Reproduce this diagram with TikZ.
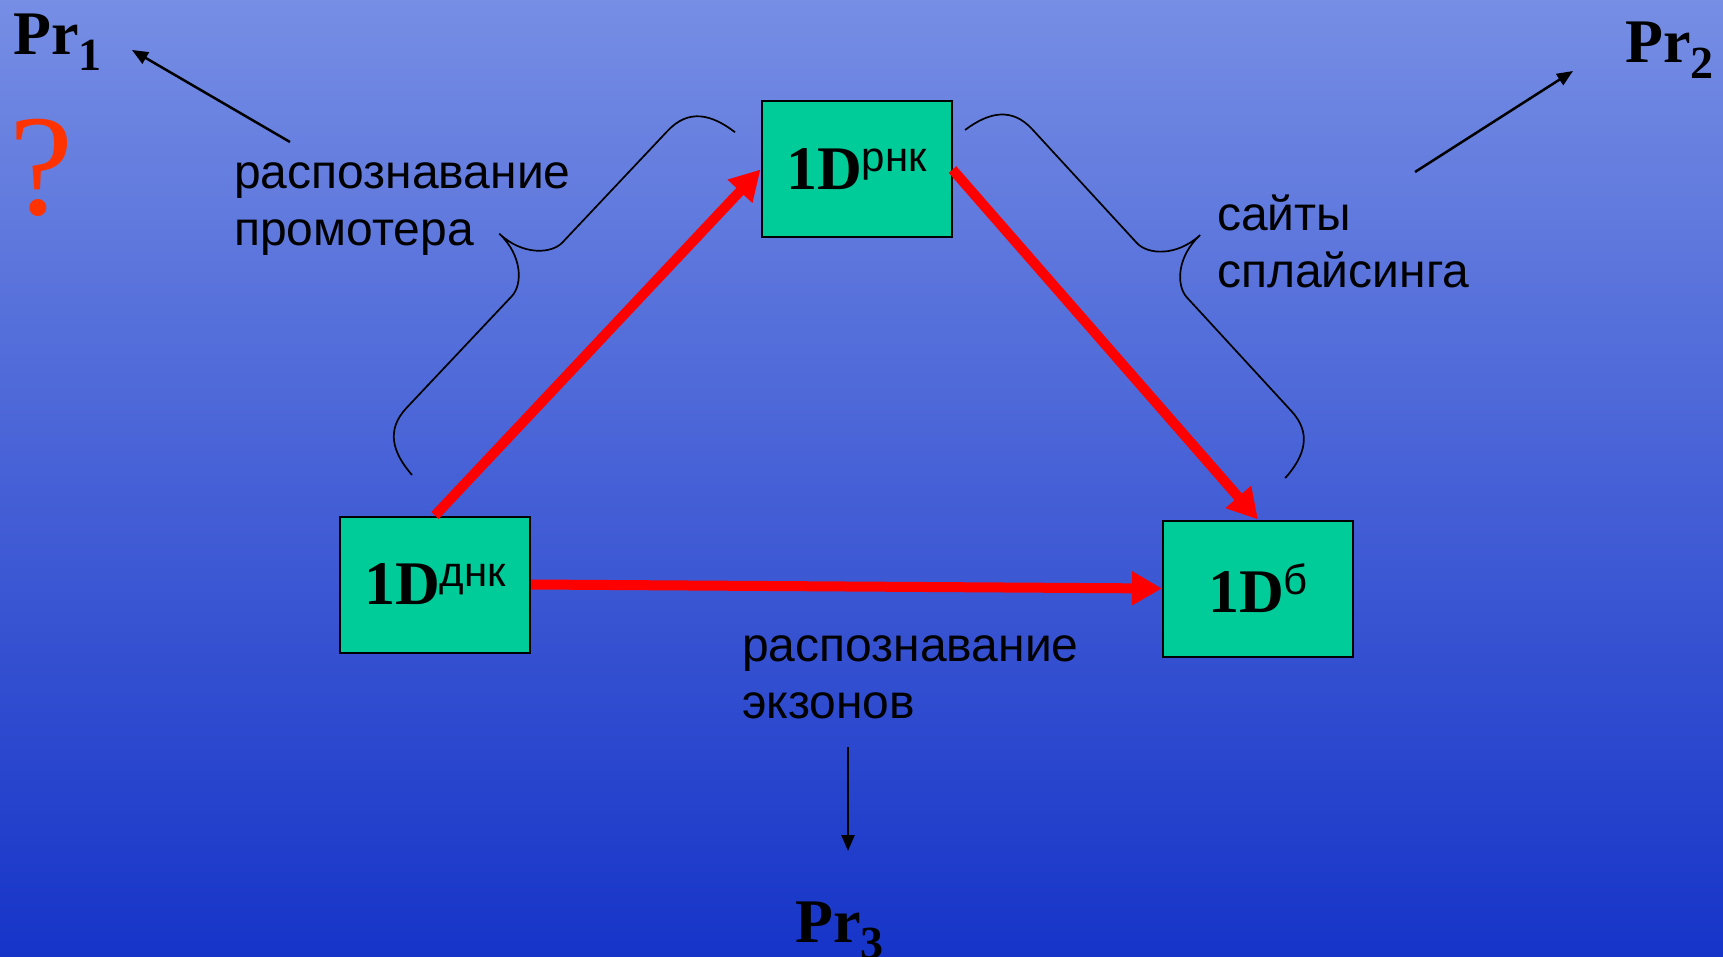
\documentclass[tikz,border=0pt]{standalone}
\usepackage{fontspec}
\setmainfont{Liberation Serif}
\setsansfont{Liberation Sans}
\usepackage{tikz}
\usetikzlibrary{arrows.meta, calc}

\definecolor{bgtop}{RGB}{118,142,228}
\definecolor{bgbottom}{RGB}{22,52,200}
\definecolor{boxgreen}{RGB}{0,204,153}
\definecolor{qred}{RGB}{255,51,0}

\tikzset{
    genebox/.style={draw=black, line width=2pt, fill=boxgreen, minimum width=190pt,
        minimum height=136pt, inner sep=0pt, font=\bfseries},
    redarrow/.style={draw=red, line width=10pt, -{Triangle[length=30pt,width=32pt]}},
    blackarrow/.style={draw=black, line width=2.5pt, -{Triangle[length=16pt,width=13pt]}},
    bracestyle/.style={draw=black, line width=1.7pt},
    caption/.style={anchor=base west, inner sep=0pt, align=left,
        font=\sffamily\fontsize{48}{57}\selectfont},
    prlabel/.style={anchor=base west, inner sep=0pt, font=\bfseries\fontsize{62}{62}\selectfont}
}

% 1D with a superscript
\def\oneD#1{{\fontsize{62}{62}\selectfont 1D}\raisebox{18pt}{\sffamily\mdseries\fontsize{42}{42}\selectfont #1}}

% curly brace: start point, angle, half length
\def\sidebrace#1#2#3{%
    \begin{scope}[shift={#1}, rotate=#2, y=1pt]
        \draw[bracestyle] (0,0) .. controls (3,30) and (15,50) .. (45,50)
            -- (#3-37,50) .. controls (#3-21,50) and (#3,70) .. (#3,102)
            .. controls (#3,70) and (#3+21,50) .. (#3+37,50)
            -- (2*#3-45,50) .. controls (2*#3-15,50) and (2*#3-3,30) .. (2*#3,0);
    \end{scope}
}

\begin{document}
\begin{tikzpicture}[x=1pt, y=-1pt]
    \useasboundingbox (0,0) rectangle (1723,957);

    % background
    \shade[top color=bgtop, bottom color=bgbottom] (0,0) rectangle (1723,957);

    % boxes
    \foreach \name/\x/\y/\suplabel in {dnk/435/584.5/днк, rnk/856.5/169.5/рнк, b/1258/588.5/б}
    {
        \node[genebox] (\name) at (\x,\y) {\oneD{\suplabel}};
    }

    % red arrows
    \draw[redarrow] (dnk.north) -- (rnk.west);
    \draw[redarrow] (rnk.east) -- (b.north);
    \draw[redarrow] (dnk.east) -- (b.west);

    % braces
    \sidebrace{(412,475)}{46.7}{235.5}
    \sidebrace{(965,130)}{-47.4}{236.5}

    % captions (base = last line)
    \node[caption] (promoter) at (234,246) {распознавание\\промотера};
    \node[caption] (splicing) at (1217,288) {сайты\\сплайсинга};
    \node[caption] (exons) at (742,718) {распознавание\\экзонов};

    % Pr labels
    \foreach \i/\x/\y in {1/13/55, 2/1625/63, 3/795/942}
    {
        \node[prlabel] (pr\i) at (\x,\y) {Pr\raisebox{-16pt}{\fontsize{46}{46}\selectfont\i}};
    }
    \node[anchor=base west, inner sep=0pt, text=qred, font=\fontsize{144}{144}\selectfont]
        (question) at (9,215) {?};

    % black arrows
    \coordinate (tail1) at (290,142);
    \coordinate (head1) at (132,50);
    \coordinate (tail2) at (1415,172);
    \coordinate (head2) at (1573,71);
    \coordinate (tail3) at (848,747);
    \coordinate (head3) at (848,851);
    \draw[blackarrow] (tail1) -- (head1);
    \draw[blackarrow] (tail2) -- (head2);
    \draw[blackarrow] (tail3) -- (head3);
\end{tikzpicture}
\end{document}
